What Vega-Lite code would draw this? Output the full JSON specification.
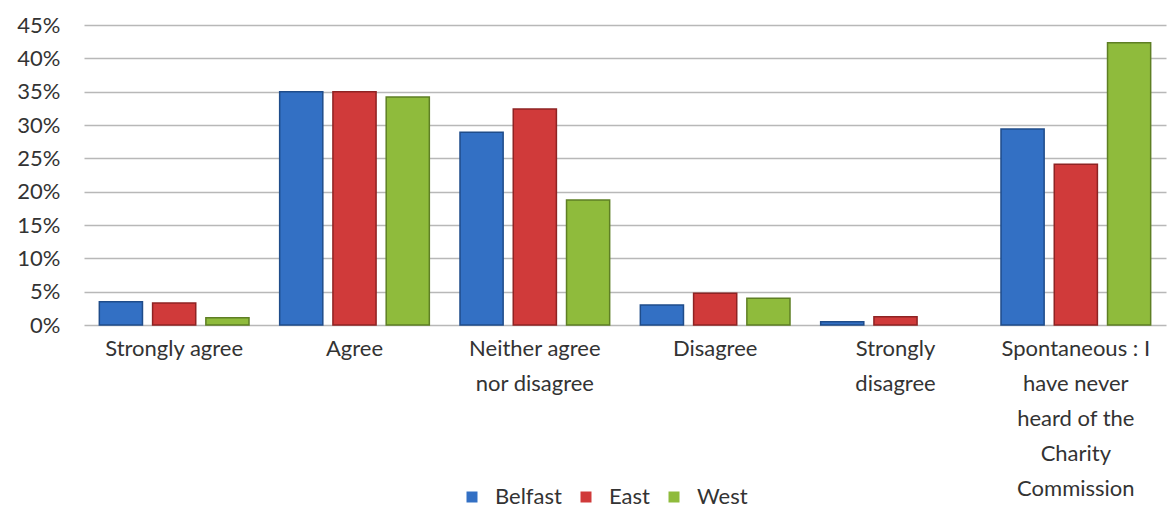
{
  "$schema": "https://vega.github.io/schema/vega-lite/v6.json",
  "autosize": "none",
  "width": 1082,
  "height": 300,
  "padding": {"left": 84, "top": 25, "right": 2, "bottom": 184},
  "background": "white",
  "config": {
    "font": "Lato",
    "view": {"stroke": null}
  },
  "data": {
    "values": [
      {"response": "Strongly agree", "region": "Belfast", "share": 0.035},
      {"response": "Strongly agree", "region": "East", "share": 0.033},
      {"response": "Strongly agree", "region": "West", "share": 0.011},
      {"response": "Agree", "region": "Belfast", "share": 0.35},
      {"response": "Agree", "region": "East", "share": 0.35},
      {"response": "Agree", "region": "West", "share": 0.342},
      {"response": "Neither agree nor disagree", "region": "Belfast", "share": 0.289},
      {"response": "Neither agree nor disagree", "region": "East", "share": 0.324},
      {"response": "Neither agree nor disagree", "region": "West", "share": 0.1875},
      {"response": "Disagree", "region": "Belfast", "share": 0.03},
      {"response": "Disagree", "region": "East", "share": 0.0475},
      {"response": "Disagree", "region": "West", "share": 0.04},
      {"response": "Strongly disagree", "region": "Belfast", "share": 0.005},
      {"response": "Strongly disagree", "region": "East", "share": 0.0125},
      {"response": "Strongly disagree", "region": "West", "share": 0},
      {"response": "Spontaneous : I have never heard of the Charity Commission", "region": "Belfast", "share": 0.294},
      {"response": "Spontaneous : I have never heard of the Charity Commission", "region": "East", "share": 0.241},
      {"response": "Spontaneous : I have never heard of the Charity Commission", "region": "West", "share": 0.4235}
    ]
  },
  "mark": {"type": "bar", "strokeWidth": 1.5},
  "encoding": {
    "x": {
      "field": "response",
      "type": "nominal",
      "sort": null,
      "scale": {"paddingInner": 0.17, "paddingOuter": 0.085},
      "axis": {
        "title": null,
        "labelAngle": 0,
        "ticks": false,
        "domain": false,
        "labelFontSize": 22,
        "labelColor": "#333333",
        "labelPadding": 13,
        "labelLineHeight": 35,
        "labelExpr": "datum.value == 'Neither agree nor disagree' ? ['Neither agree', 'nor disagree'] : datum.value == 'Strongly disagree' ? ['Strongly', 'disagree'] : datum.value == 'Spontaneous : I have never heard of the Charity Commission' ? ['Spontaneous : I', 'have never', 'heard of the', 'Charity', 'Commission'] : datum.value"
      }
    },
    "xOffset": {
      "field": "region",
      "type": "nominal",
      "scale": {"paddingInner": 0.19}
    },
    "y": {
      "field": "share",
      "type": "quantitative",
      "scale": {"domain": [0, 0.45], "nice": false},
      "axis": {
        "title": null,
        "format": ".0%",
        "values": [0, 0.05, 0.1, 0.15, 0.2, 0.25, 0.3, 0.35, 0.4, 0.45],
        "ticks": false,
        "domain": false,
        "gridColor": "#b8b8b8",
        "gridWidth": 1.5,
        "labelFontSize": 22,
        "labelColor": "#333333",
        "labelPadding": 24
      }
    },
    "color": {
      "field": "region",
      "type": "nominal",
      "scale": {"domain": ["Belfast", "East", "West"], "range": ["#3370c4", "#d03a3a", "#8fbb3c"]},
      "legend": {
        "title": null,
        "orient": "none",
        "direction": "horizontal",
        "legendX": 377,
        "legendY": 461,
        "symbolType": "square",
        "symbolSize": 121,
        "symbolStrokeWidth": 0,
        "labelFontSize": 22,
        "labelColor": "#333333",
        "labelOffset": 12,
        "columnPadding": 13
      }
    },
    "stroke": {
      "field": "region",
      "type": "nominal",
      "scale": {"domain": ["Belfast", "East", "West"], "range": ["#1f4c8a", "#8e2323", "#5e7f24"]},
      "legend": null
    },
    "strokeOpacity": {
      "condition": {"test": "datum.share == 0", "value": 0},
      "value": 1
    }
  }
}
